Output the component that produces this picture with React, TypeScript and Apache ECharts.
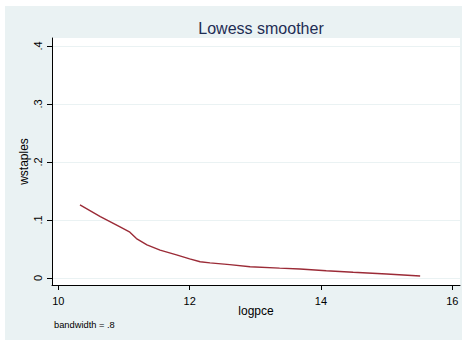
import React, { useEffect, useRef } from "react";
import * as echarts from "echarts";

const xValues = [10.33, 10.64, 10.94, 11.09, 11.19, 11.35, 11.55, 11.8, 12.0, 12.16, 12.31, 12.61, 12.92, 13.37, 13.68, 14.08, 14.49, 15.0, 15.51];
const yValues = [0.126, 0.106, 0.088, 0.079, 0.068, 0.057, 0.048, 0.04, 0.033, 0.028, 0.026, 0.023, 0.0195, 0.017, 0.0155, 0.0126, 0.0098, 0.0069, 0.0034];
const xTicks = [10, 12, 14, 16];
const yTicks = [0, 0.1, 0.2, 0.3, 0.4];

const FONT = "'Liberation Sans', Arial, sans-serif";

export default function App() {
  const ref = useRef<HTMLDivElement>(null);
  useEffect(() => {
    if (!ref.current) return;
    const chart = echarts.init(ref.current, null, { renderer: "svg" });
    const data = xValues.map((x, i) => [x, yValues[i]]);
    chart.setOption({
      animation: false,
      backgroundColor: "#ffffff",
      textStyle: { fontFamily: FONT },
      graphic: [
        {
          type: "rect",
          z: -10,
          silent: true,
          shape: { x: 5, y: 6, width: 457, height: 334 },
          style: { fill: "#EAF2F3" },
        },
        {
          type: "text",
          left: 54,
          top: 320,
          style: { text: "bandwidth = .8", fontSize: 9.3, fontFamily: FONT, fill: "#000" },
        },
      ],
      title: {
        text: "Lowess smoother",
        left: 256,
        top: 15,
        textAlign: "center",
        textStyle: { fontSize: 16, fontWeight: "normal", color: "#1E2D53", fontFamily: FONT },
      },
      grid: {
        left: 52,
        right: 6,
        top: 38,
        bottom: 57,
        show: true,
        backgroundColor: "#ffffff",
        borderWidth: 0,
      },
      xAxis: {
        type: "value",
        min: 9.904,
        max: 16.117,
        name: "logpce",
        nameLocation: "middle",
        nameGap: 20,
        nameMoveOverlap: false,
        nameTextStyle: { fontSize: 12, color: "#000", fontFamily: FONT },
        axisLine: { show: true, onZero: false, lineStyle: { color: "#000", width: 1 } },
        axisTick: { show: true, length: 5, lineStyle: { color: "#000" }, customValues: xTicks },
        axisLabel: { fontSize: 11, color: "#000", margin: 10, customValues: xTicks, formatter: (v: number) => String(v) },
        splitLine: { show: false },
      },
      yAxis: {
        type: "value",
        min: -0.01207,
        max: 0.41379,
        name: "wstaples",
        nameLocation: "middle",
        nameGap: 22,
        nameMoveOverlap: false,
        nameTextStyle: { fontSize: 12, color: "#000", fontFamily: FONT },
        axisLine: { show: true, onZero: false, lineStyle: { color: "#000", width: 1 } },
        axisTick: { show: true, length: 5, lineStyle: { color: "#000" }, customValues: yTicks },
        axisLabel: {
          fontSize: 11,
          color: "#000",
          margin: 9,
          rotate: 90,
          customValues: yTicks,
          formatter: (v: number) => (v === 0 ? "0" : String(Math.round(v * 10) / 10).replace("0.", ".")),
        },
        splitLine: { show: true, lineStyle: { color: "#EAF2F3", width: 1 } },
      },
      series: [
        {
          type: "line",
          data,
          showSymbol: false,
          symbol: "none",
          lineStyle: { color: "#9B2B37", width: 1.4 },
        },
      ],
    });
    return () => chart.dispose();
  }, []);
  return (
    <div
      ref={ref}
      style={{ position: "fixed", left: 0, top: 0, width: 466, height: 342 }}
    />
  );
}
